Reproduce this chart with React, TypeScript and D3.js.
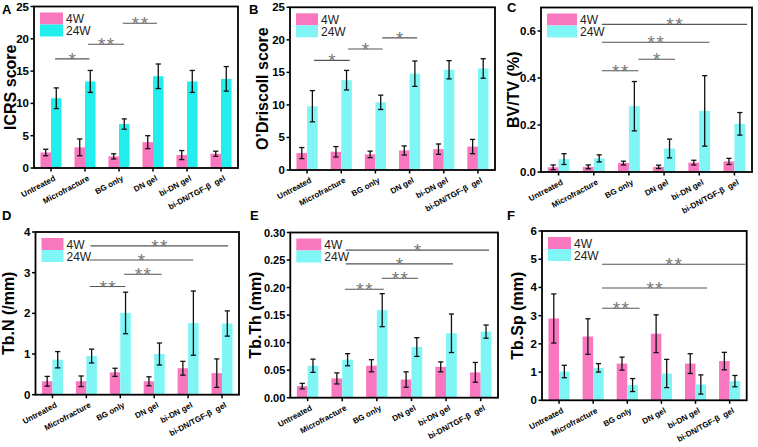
import React from "react";
import * as d3 from "d3";

const categories = ["Untreated", "Microfracture", "BG only", "DN gel", "bi-DN gel", "bi-DN/TGF-β  gel"];
const seriesNames = ["4W", "24W"];

const icrs4W = [2.4, 3.2, 1.8, 4.0, 2.0, 2.2];
const icrs4WErr = [0.5, 1.3, 0.4, 1.0, 0.7, 0.4];
const icrs24W = [10.8, 13.4, 6.8, 14.2, 13.4, 13.8];
const icrs24WErr = [1.6, 1.7, 0.8, 1.9, 1.7, 1.9];

const odr4W = [2.6, 2.8, 2.4, 3.0, 3.2, 3.6];
const odr4WErr = [0.85, 0.8, 0.5, 0.7, 0.8, 1.1];
const odr24W = [9.8, 13.8, 10.4, 14.8, 15.4, 15.6];
const odr24WErr = [2.4, 1.5, 1.1, 1.95, 1.4, 1.5];

const bvtv4W = [0.02, 0.022, 0.038, 0.022, 0.04, 0.045];
const bvtv4WErr = [0.01, 0.008, 0.008, 0.007, 0.01, 0.013];
const bvtv24W = [0.055, 0.058, 0.28, 0.1, 0.26, 0.205];
const bvtv24WErr = [0.023, 0.015, 0.105, 0.04, 0.15, 0.048];

const tbn4W = [0.33, 0.33, 0.55, 0.33, 0.65, 0.53];
const tbn4WErr = [0.12, 0.13, 0.1, 0.11, 0.17, 0.35];
const tbn24W = [0.86, 0.95, 2.01, 1.0, 1.76, 1.75];
const tbn24WErr = [0.2, 0.17, 0.51, 0.27, 0.79, 0.31];

const tbth4W = [0.021, 0.035, 0.058, 0.033, 0.056, 0.046];
const tbth4WErr = [0.005, 0.01, 0.011, 0.014, 0.009, 0.018];
const tbth24W = [0.058, 0.069, 0.159, 0.092, 0.117, 0.12];
const tbth24WErr = [0.012, 0.011, 0.03, 0.017, 0.035, 0.012];

const tbsp4W = [2.9, 2.26, 1.3, 2.36, 1.3, 1.39];
const tbsp4WErr = [0.87, 0.63, 0.23, 0.67, 0.35, 0.31];
const tbsp24W = [1.02, 1.15, 0.54, 0.95, 0.56, 0.68];
const tbsp24WErr = [0.22, 0.15, 0.23, 0.5, 0.34, 0.2];

// significance brackets: from/to in category units (0 = first category), y in data units
const icrsSig = [
  { from: 0.12, to: 1.13, y: 16.9, label: "*" },
  { from: 1.09, to: 2.15, y: 19.15, label: "**" },
  { from: 2.11, to: 3.12, y: 22.4, label: "**" },
];
const odrSig = [
  { from: 0.2, to: 1.25, y: 16.85, label: "*" },
  { from: 1.2, to: 2.21, y: 18.6, label: "*" },
  { from: 2.2, to: 3.22, y: 20.3, label: "*" },
];
const bvtvSig = [
  { from: 1.23, to: 5.36, y: 0.628, label: "**" },
  { from: 1.23, to: 4.29, y: 0.552, label: "**" },
  { from: 2.27, to: 3.31, y: 0.48, label: "*" },
  { from: 1.23, to: 2.27, y: 0.431, label: "**" },
];
const tbnSig = [
  { from: 1.12, to: 5.18, y: 3.66, label: "**" },
  { from: 1.1, to: 4.15, y: 3.31, label: "*" },
  { from: 2.11, to: 3.22, y: 2.96, label: "**" },
  { from: 1.1, to: 2.15, y: 2.66, label: "**" },
];
const tbthSig = [
  { from: 1.1, to: 5.24, y: 0.268, label: "*" },
  { from: 1.1, to: 4.2, y: 0.243, label: "*" },
  { from: 2.14, to: 3.19, y: 0.217, label: "**" },
  { from: 1.08, to: 2.2, y: 0.197, label: "**" },
];
const tbspSig = [
  { from: 1.26, to: 5.46, y: 4.82, label: "**" },
  { from: 1.26, to: 4.34, y: 3.98, label: "**" },
  { from: 1.26, to: 2.36, y: 3.26, label: "**" },
];

const icrsTicks = [0, 5, 10, 15, 20, 25];
const odrTicks = [0, 5, 10, 15, 20, 25];
const bvtvTicks = [0, 0.2, 0.4, 0.6];
const tbnTicks = [0, 1, 2, 3, 4];
const tbthTicks = [0, 0.05, 0.1, 0.15, 0.2, 0.25, 0.3];
const tbspTicks = [0, 1, 2, 3, 4, 5, 6];

const PINK = "#f977bf";
const CYAN_A = "#22eeee";
const CYAN = "#80f5f5";
const FONT = "'Liberation Sans', Arial, Helvetica, sans-serif";

type Sig = { from: number; to: number; y: number; label: string };
type PanelProps = {
  letter: string;
  letterX: number;
  letterY: number;
  title: string;
  titleOffset: number;
  left: number;
  right: number;
  top: number;
  bottom: number;
  yMax: number;
  ticks: number[];
  fmt: string;
  tickFont: number;
  a: number[];
  aErr: number[];
  b: number[];
  bErr: number[];
  sig: Sig[];
  cyan: string;
  legendW: number;
};

function Panel(p: PanelProps) {
  const x = d3.scaleBand<string>().domain(categories).range([p.left, p.right]).padding(0);
  const xf = d3.scaleLinear().domain([-0.5, categories.length - 0.5]).range([p.left, p.right]);
  const y = d3.scaleLinear().domain([0, p.yMax]).range([p.bottom, p.top]);
  const bw = x.bandwidth() * 0.31;
  const format = d3.format(p.fmt);
  const cx = (c: string) => (x(c) as number) + x.bandwidth() / 2;
  const cap = 2.6;
  const series = [
    { vals: p.a, errs: p.aErr, color: PINK, off: -bw },
    { vals: p.b, errs: p.bErr, color: p.cyan, off: 0 },
  ];
  const plotTop = y(p.yMax);
  return (
    <g>
      <text x={p.letterX} y={p.letterY} fontFamily={FONT} fontWeight="bold" fontSize={13}>
        {p.letter}
      </text>
      {series.map((s, si) =>
        categories.map((c, i) => (
          <rect
            key={`b${si}-${i}`}
            x={cx(c) + s.off}
            y={y(s.vals[i])}
            width={bw}
            height={p.bottom - y(s.vals[i])}
            fill={s.color}
          />
        ))
      )}
      {series.map((s, si) =>
        categories.map((c, i) => {
          const xc = cx(c) + s.off + bw / 2;
          const y1 = y(s.vals[i] + s.errs[i]);
          const y0 = y(s.vals[i] - s.errs[i]);
          return (
            <g key={`e${si}-${i}`} stroke="#111" strokeWidth={1.3}>
              <line x1={xc} x2={xc} y1={y1} y2={y0} />
              <line x1={xc - cap} x2={xc + cap} y1={y1} y2={y1} />
              <line x1={xc - cap} x2={xc + cap} y1={y0} y2={y0} />
            </g>
          );
        })
      )}
      {p.sig.map((s, i) => (
        <g key={`s${i}`}>
          <line x1={xf(s.from)} x2={xf(s.to)} y1={y(s.y)} y2={y(s.y)} stroke="#555" strokeWidth={1.1} />
          <text
            x={(xf(s.from) + xf(s.to)) / 2}
            y={y(s.y) + 7}
            textAnchor="middle"
            fontFamily={FONT}
            fontSize={19}
            fill="#777"
          >
            {s.label.split("").map((ch, k) => (
              <tspan key={k} dx={k === 0 ? 0 : 1.5}>{ch}</tspan>
            ))}
          </text>
        </g>
      ))}
      {/* legend */}
      {seriesNames.map((n, i) => (
        <g key={`l${i}`}>
          <rect x={p.left + 6} y={plotTop + 6 + i * 12} width={p.legendW} height={12} fill={i === 0 ? PINK : p.cyan} />
          <text
            x={p.left + 6 + p.legendW + 3}
            y={plotTop + 6 + i * 12 + 10.5}
            fontFamily={FONT}
            fontSize={12}
            fill="#222"
          >
            {n}
          </text>
        </g>
      ))}
      {/* frame */}
      <rect x={p.left} y={plotTop} width={p.right - p.left} height={p.bottom - plotTop} fill="none" stroke="#000" strokeWidth={1.8} />
      {/* y ticks */}
      {p.ticks.map((t) => (
        <g key={`yt${t}`}>
          <line x1={p.left - 3.5} x2={p.left} y1={y(t)} y2={y(t)} stroke="#000" strokeWidth={1.5} />
          <text x={p.left - 5} y={y(t) + 4} textAnchor="end" fontFamily={FONT} fontWeight="bold" fontSize={p.tickFont}>
            {format(t)}
          </text>
        </g>
      ))}
      {/* x ticks */}
      {categories.map((c) => (
        <g key={`xt${c}`}>
          <line x1={cx(c)} x2={cx(c)} y1={p.bottom} y2={p.bottom + 3.5} stroke="#000" strokeWidth={1.5} />
          <text
            transform={`translate(${cx(c) + 5},${p.bottom + 12}) rotate(-28)`}
            textAnchor="end"
            fontFamily={FONT}
            fontWeight="bold"
            fontSize={8}
            xmlSpace="preserve"
          >
            {c}
          </text>
        </g>
      ))}
      <text
        transform={`translate(${p.left - p.titleOffset + 5.5},${(plotTop + p.bottom) / 2}) rotate(-90)`}
        textAnchor="middle"
        fontFamily={FONT}
        fontWeight="bold"
        fontSize={16}
      >
        {p.title}
      </text>
    </g>
  );
}

export default function App() {
  return (
    <svg width={758} height={447} style={{ position: "absolute", left: 0, top: 0, background: "#fff" }}>
      <Panel letter="A" letterX={2} letterY={14} title="ICRS score" titleOffset={24} left={34} right={238} top={6.5} bottom={168}
        yMax={25} ticks={icrsTicks} fmt="d" tickFont={11.5} a={icrs4W} aErr={icrs4WErr} b={icrs24W} bErr={icrs24WErr} sig={icrsSig} cyan={CYAN_A} legendW={23} />
      <Panel letter="B" letterX={249} letterY={14} title="O’Driscoll score" titleOffset={28} left={290} right={495} top={7.3} bottom={170}
        yMax={25} ticks={odrTicks} fmt="d" tickFont={11.5} a={odr4W} aErr={odr4WErr} b={odr24W} bErr={odr24WErr} sig={odrSig} cyan={CYAN} legendW={22} />
      <Panel letter="C" letterX={507} letterY={12} title="BV/TV (%)" titleOffset={28} left={541} right={752} top={7.5} bottom={172}
        yMax={0.7} ticks={bvtvTicks} fmt=".1f" tickFont={11.5} a={bvtv4W} aErr={bvtv4WErr} b={bvtv24W} bErr={bvtv24WErr} sig={bvtvSig} cyan={CYAN} legendW={30} />
      <Panel letter="D" letterX={2} letterY={220} title="Tb.N (/mm)" titleOffset={27} left={35.5} right={239} top={232} bottom={394.7}
        yMax={4} ticks={tbnTicks} fmt="d" tickFont={11.5} a={tbn4W} aErr={tbn4WErr} b={tbn24W} bErr={tbn24WErr} sig={tbnSig} cyan={CYAN} legendW={22} />
      <Panel letter="E" letterX={250} letterY={220} title="Tb.Th (mm)" titleOffset={35} left={290.3} right={498} top={232.5} bottom={397.7}
        yMax={0.3} ticks={tbthTicks} fmt=".2f" tickFont={11} a={tbth4W} aErr={tbth4WErr} b={tbth24W} bErr={tbth24WErr} sig={tbthSig} cyan={CYAN} legendW={25} />
      <Panel letter="F" letterX={507} letterY={220} title="Tb.Sp (mm)" titleOffset={25} left={542} right={746.7} top={231} bottom={400.3}
        yMax={6} ticks={tbspTicks} fmt="d" tickFont={11.5} a={tbsp4W} aErr={tbsp4WErr} b={tbsp24W} bErr={tbsp24WErr} sig={tbspSig} cyan={CYAN} legendW={23} />
    </svg>
  );
}
